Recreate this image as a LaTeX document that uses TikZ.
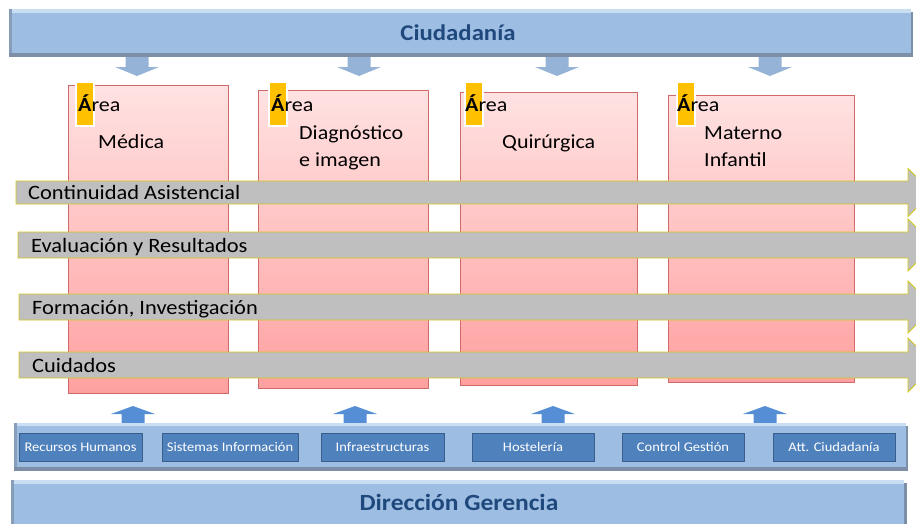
\documentclass[tikz,border=0pt]{standalone}
\usepackage{fontspec}
\setmainfont{Carlito}[FakeStretch=1.1]
\definecolor{barblue}{HTML}{9EBDE2}
\definecolor{barlight}{HTML}{C9DDF3}
\definecolor{bardark}{HTML}{7D8FA6}
\definecolor{titleblue}{HTML}{1F497D}
\definecolor{arrowlight}{HTML}{95B3D7}
\definecolor{arrowdark}{HTML}{558ED5}
\definecolor{boxblue}{HTML}{4F81BD}
\definecolor{boxdark}{HTML}{3A5F8C}
\definecolor{pinktop}{HTML}{FFE2E2}
\definecolor{pinkbot}{HTML}{FFA0A0}
\definecolor{pinkborder}{HTML}{D06A68}
\definecolor{tabor}{HTML}{FFC000}
\definecolor{bandgray}{HTML}{BFBFBF}
\definecolor{bandedge}{HTML}{D4C81E}
\tikzset{
  barstyle/.style={fill=barblue, draw=none, inner sep=0pt},
  areabox/.style={draw=pinkborder, line width=0.9pt, top color=pinktop, bottom color=pinkbot, inner sep=0pt},
  tabstyle/.style={fill=tabor, draw=white, line width=1.5pt, inner sep=0pt},
  areatxt/.style={font=\fontsize{20}{24}\selectfont, inner sep=0pt},
  bandstyle/.style={fill=bandgray, draw=bandedge, line width=0.9pt},
  bandtxt/.style={font=\fontsize{20.4}{24}\selectfont, inner sep=0pt, anchor=base west},
  svcbox/.style={fill=boxblue, draw=boxdark, line width=1pt, inner sep=0pt, text=white,
    font=\fontsize{13.2}{15}\selectfont, minimum height=28pt},
  downarr/.style={fill=arrowlight, draw=none},
  uparr/.style={fill=arrowdark, draw=none}
}
\begin{document}
\begin{tikzpicture}[x=1pt,y=-1pt]
\useasboundingbox (0,0) rectangle (916,523);

% ---- top bar
\fill[bardark] (9,12) rectangle (913,57);
\node[barstyle, minimum width=902pt, minimum height=44pt, anchor=north west] (ciud) at (9,9) {};
\fill[barlight] (9,9) rectangle (911,13);
\fill[bardark!70!barblue] (9,9) rectangle (12,53);
\node[font=\fontsize{22.5}{26}\selectfont\bfseries, text=titleblue] (ciudt) at (458,33) {Ciudadanía};

% ---- down arrows
\foreach \cx in {137,359,557,770}{
  \fill[downarr] (\cx-11.5,57) -- (\cx+11.5,57) -- (\cx+11.5,67) -- (\cx+22,67) -- (\cx,76)
     -- (\cx-22,67) -- (\cx-11.5,67) -- cycle;
}

% ---- area boxes
\node[areabox, minimum width=160pt, minimum height=308pt] (a1) at (148,239) {};
\node[areabox, minimum width=170pt, minimum height=298pt] (a2) at (343,239) {};
\node[areabox, minimum width=177pt, minimum height=293pt] (a3) at (548.5,238.5) {};
\node[areabox, minimum width=186pt, minimum height=287pt] (a4) at (761,238.5) {};

% tabs
\node[tabstyle, minimum width=18pt, minimum height=44pt, anchor=north west] (t1) at (75,81) {};
\node[tabstyle, minimum width=18pt, minimum height=44pt, anchor=north west] (t2) at (268,81) {};
\node[tabstyle, minimum width=18pt, minimum height=44pt, anchor=north west] (t3) at (464,81) {};
\node[tabstyle, minimum width=18pt, minimum height=44pt, anchor=north west] (t4) at (676,81) {};

\node[areatxt, anchor=base west] (l1) at (78,111) {\textbf{Á}rea};
\node[areatxt, anchor=base west] (l2) at (271,111) {\textbf{Á}rea};
\node[areatxt, anchor=base west] (l3) at (465,111) {\textbf{Á}rea};
\node[areatxt, anchor=base west] (l4) at (677,111) {\textbf{Á}rea};

\node[areatxt, anchor=base west] (m1) at (98,148) {Médica};
\node[areatxt, anchor=base west] (m2a) at (299,139) {Diagnóstico};
\node[areatxt, anchor=base west] (m2b) at (299,166) {e imagen};
\node[areatxt, anchor=base west] (m3) at (502,148) {Quirúrgica};
\node[areatxt, anchor=base west] (m4a) at (704,139) {Materno};
\node[areatxt, anchor=base west] (m4b) at (704,166) {Infantil};

% ---- bands (arrows)
\foreach \x/\t/\b/\hh in {16/181/204/24, 18/232/258/26, 19/294/320/26, 19/352/378/27}{
  \pgfmathsetmacro{\c}{(\t+\b)/2}
  \draw[bandstyle] (\x,\t) -- (908,\t) -- (908,\c-\hh) -- (908+\hh,\c) -- (908,\c+\hh) -- (908,\b) -- (\x,\b) -- cycle;
}
\node[bandtxt] (bt1) at (28,199) {Continuidad Asistencial};
\node[bandtxt] (bt2) at (31,252) {Evaluación y Resultados};
\node[bandtxt] (bt3) at (32,314) {Formación, Investigación};
\node[bandtxt] (bt4) at (32,372) {Cuidados};

% ---- up arrows
\foreach \cx in {133,355,553,765}{
  \fill[uparr] (\cx-11.5,423) -- (\cx+11.5,423) -- (\cx+11.5,414) -- (\cx+22,414) -- (\cx,406)
     -- (\cx-22,414) -- (\cx-11.5,414) -- cycle;
}

% ---- bottom services bar
\fill[bardark] (14,426) rectangle (908,471);
\node[barstyle, minimum width=892pt, minimum height=44pt, anchor=north west] (svc) at (14,423) {};
\fill[barlight] (14,423) rectangle (906,426);
\fill[bardark!70!barblue] (14,423) rectangle (17,467);

\node[svcbox, minimum width=123pt] (s1) at (80.5,447) {Recursos Humanos};
\node[svcbox, minimum width=136pt] (s2) at (230,447) {Sistemas Información};
\node[svcbox, minimum width=123pt] (s3) at (382.5,447) {Infraestructuras};
\node[svcbox, minimum width=122pt] (s4) at (533,447) {Hostelería};
\node[svcbox, minimum width=122pt] (s5) at (683,447) {Control Gestión};
\node[svcbox, minimum width=122pt] (s6) at (834,447) {Att. Ciudadanía};

% ---- bottom bar
\fill[bardark] (12,483) rectangle (907,530);
\node[barstyle, minimum width=893pt, minimum height=50pt, anchor=north west] (dir) at (11,480) {};
\fill[barlight] (11,480) rectangle (904,484);
\fill[bardark!70!barblue] (11,480) rectangle (14,530);
\node[font=\fontsize{23.2}{27}\selectfont\bfseries, text=titleblue] (dirt) at (459,502) {Dirección Gerencia};
\end{tikzpicture}
\end{document}
